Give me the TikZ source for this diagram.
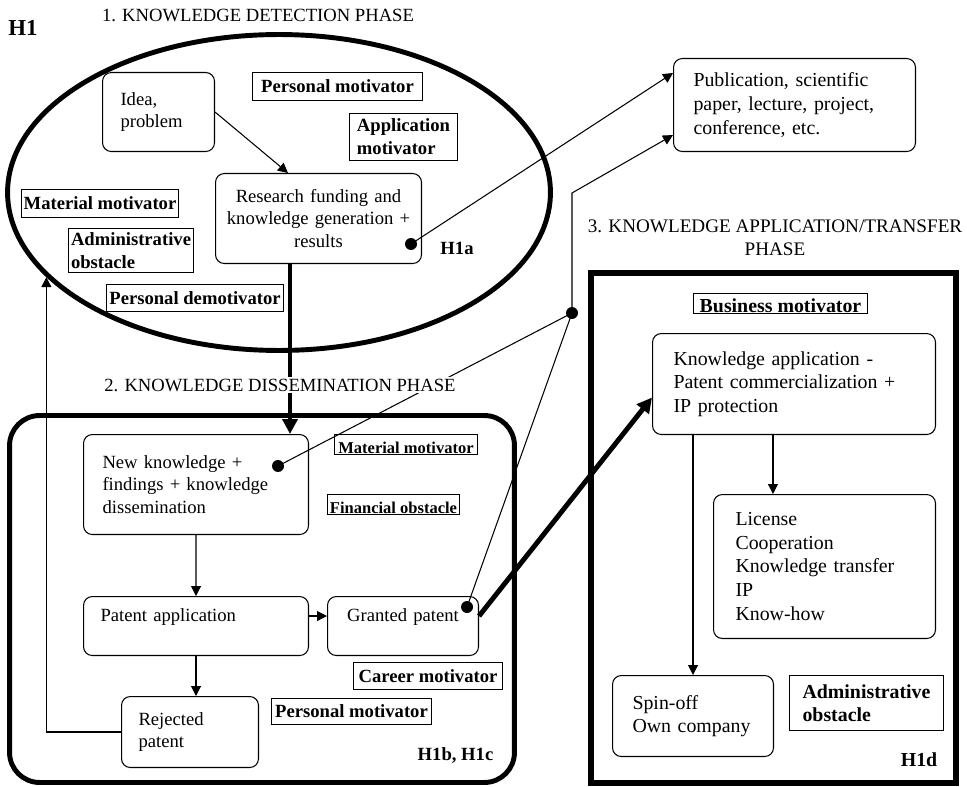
\documentclass[tikz,border=0pt]{standalone}
\usepackage{fontspec}
\setmainfont{Liberation Serif}
\usetikzlibrary{arrows.meta, shapes.geometric}
\newcommand\leftsize{\fontsize{10.6}{13}\selectfont}
\newcommand\rightsize{\fontsize{11.3}{13.4}\selectfont}
\tikzset{
  phasefig/.style={
    x=0.02cm, y=-0.02cm,
    every node/.append style={font=\leftsize},
    >={Triangle[length=2mm, width=2mm]},
  },
  stepbox/.style={
    draw, line width=0.6pt, rounded corners=5pt, anchor=north west,
    align=left, inner ysep=2pt,
  },
  factor/.style={
    draw, line width=0.6pt, anchor=north west, align=left,
    inner xsep=0.04cm, inner ysep=1pt, font=\leftsize\bfseries,
  },
  % small boxes that hug the baseline
  smallfactor/.style={factor, text height=0.34cm, text depth=0pt, inner ysep=0.03cm},
  phaseframe/.style={draw, line width=2.8pt, inner sep=0pt},
  phasetitle/.style={inner sep=1pt},
  hyp/.style={font=\leftsize\bfseries, inner sep=0pt},
  joint/.style={circle, fill, inner sep=0pt, minimum size=0.24cm},
  flow/.style={draw, line width=0.6pt, ->},
  link/.style={draw, line width=0.6pt},
  bigflow/.style={draw, line width=2.8pt, -{Triangle[length=3mm, width=3mm]}},
}

\begin{document}
\begin{tikzpicture}[phasefig]
  \useasboundingbox (0,0) rectangle (967,787);
  % phase frames
  \node[phaseframe, ellipse, minimum width=10.86cm, minimum height=6.32cm] (detect) at (279,192.5) {};
  \node[phaseframe, rounded corners=0.6cm, minimum width=10.1cm, minimum height=7.34cm] (dissem) at (262,599) {};
  \node[phaseframe, line width=3.4pt, minimum width=7.3cm, minimum height=10.2cm] (transfer) at (773.5,528) {};
  \node[phasetitle] (title1) at (258,15) {1. KNOWLEDGE DETECTION PHASE};
  \node[phasetitle, align=center, font=\fontsize{10.9}{13.2}\selectfont] (title3) at (775,237.5) {3. KNOWLEDGE APPLICATION/TRANSFER\\PHASE};
  \node[hyp, font=\fontsize{13}{15}\selectfont\bfseries] (hypMain) at (23,28) {H1};
  \node[hyp] (hypA) at (457,248) {H1a};
  \node[hyp] (hypBC) at (455.5,755) {H1b, H1c};
  \node[hyp, font=\rightsize\bfseries] (hypD) at (919,760) {H1d};

  % phase 1
  \node[stepbox, text width=1.52cm, inner xsep=0.36cm, minimum height=1.58cm] (idea) at (102,72) {Idea,\\problem};
  \node[stepbox, align=center, text width=3.72cm, inner xsep=0.2cm, minimum height=1.8cm] (research) at (215,173) {Research funding and\\knowledge generation +\\results};
  \node[factor, minimum width=3.4cm, minimum height=0.56cm] (persMot) at (252,72) {Personal motivator};
  \node[factor, minimum width=2.16cm, minimum height=0.94cm] (applMot) at (349,113) {Application\\motivator};
  \node[factor, minimum width=3.14cm, minimum height=0.56cm] (matMot) at (21,189) {Material motivator};
  \node[factor, minimum width=2.5cm, minimum height=0.88cm] (admObs) at (68,228) {Administrative\\obstacle};
  \node[factor, minimum width=3.54cm, minimum height=0.54cm] (persDemot) at (106,284) {Personal demotivator};

  \node[stepbox, font=\rightsize, text width=4.04cm, inner xsep=0.4cm, minimum height=1.86cm] (pub) at (673,58) {Publication, scientific\\paper, lecture, project,\\conference, etc.};

  % phase 2
  \node[stepbox, text width=3.74cm, inner xsep=0.38cm, minimum height=2cm] (newKnow) at (83,434) {New knowledge +\\findings + knowledge\\dissemination};
  \node[stepbox, text width=3.82cm, inner xsep=0.34cm, text depth=0.45cm, minimum height=1.18cm] (patApp) at (83,596) {Patent application};
  \node[stepbox, align=center, text width=2.62cm, inner xsep=0.2cm, text depth=0.45cm, minimum height=1.18cm] (granted) at (327,596) {Granted patent};
  \node[stepbox, text width=2.06cm, inner xsep=0.34cm, minimum height=1.42cm] (rejected) at (121,696) {Rejected\\patent};
  \node[smallfactor, font=\fontsize{9.4}{11}\selectfont\bfseries, minimum width=2.86cm] (matMotB) at (334,434) {Material motivator};
  \node[smallfactor, font=\fontsize{9.4}{11}\selectfont\bfseries, minimum width=2.64cm] (finObs) at (327,494) {Financial obstacle};
  \node[factor, minimum width=2.98cm, minimum height=0.54cm] (careerMot) at (353,662) {Career motivator};
  \node[factor, minimum width=3.2cm, minimum height=0.52cm] (persMotB) at (271,698) {Personal motivator};

  % phase 3
  \node[smallfactor, font=\rightsize\bfseries, minimum width=3.48cm] (busMot) at (693,293) {Business motivator};
  \node[stepbox, font=\rightsize, text width=4.82cm, inner xsep=0.42cm, minimum height=2.02cm] (knowApp) at (652,333) {Knowledge application -\\Patent commercialization +\\IP protection};
  \node[stepbox, font=\rightsize, text width=3.56cm, inner xsep=0.44cm, minimum height=2.88cm] (license) at (713,494) {License\\Cooperation\\Knowledge transfer\\IP\\Know-how};
  \node[stepbox, font=\rightsize, text width=2.42cm, inner xsep=0.4cm, minimum height=1.62cm] (spinoff) at (612,675) {Spin-off\\Own company};
  \node[factor, font=\rightsize\bfseries, minimum width=3.08cm, minimum height=1.1cm] (admObsB) at (789,675) {Administrative\\obstacle};

  % junctions
  \node[joint] (dotR) at (411,244) {};
  \node[joint] (dotN) at (278,466) {};
  \node[joint] (dotG) at (467,607) {};
  \node[joint] (junc) at (572,313) {};
  \coordinate (bend) at (572,193);

  % connectors
  \draw[flow] (idea.east) -- ([xshift=1.46cm]research.north west);
  \draw[bigflow] ([xshift=1.5cm]research.south west) coordinate (drop) -- (drop |- newKnow.north);
  \draw[flow] (dotR.center) -- ([yshift=-0.3cm]pub.north west);
  \draw[link] (dotN.center) -- (junc.center);
  \draw[link] (dotG.center) -- (junc.center);
  \draw[flow] (junc.center) -- (bend) -- ([yshift=0.34cm]pub.south west);
  \draw[flow] (newKnow.south) -- (patApp.north);
  \draw[flow] ([yshift=0.2cm]patApp.east) -- ([yshift=0.2cm]granted.west);
  \draw[flow] (patApp.south) -- (patApp.south |- rejected.north);
  \draw[flow] (rejected.west) -| (detect.200);
  \draw[bigflow] ([yshift=0.2cm]granted.east) -- ([yshift=-0.27cm]knowApp.west);
  \draw[flow] ([xshift=2.42cm]knowApp.south west) coordinate (split) -- (split |- license.north);
  \draw[flow] (spinoff.north |- knowApp.south) -- (spinoff.north);

  \node[phasetitle, fill=white] (title2) at (280,385) {2. KNOWLEDGE DISSEMINATION PHASE};
\end{tikzpicture}
\end{document}
